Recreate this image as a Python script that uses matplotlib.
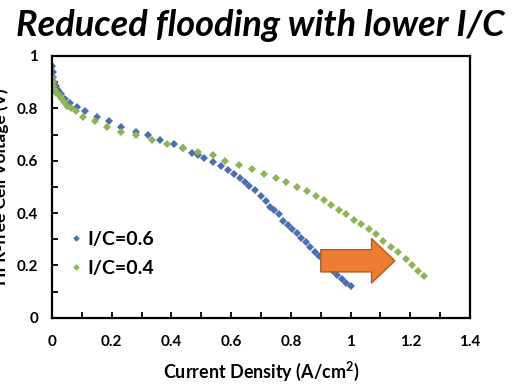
import matplotlib.pyplot as plt
from matplotlib.patches import FancyArrow
from matplotlib.ticker import MultipleLocator

# polarization data, current density (A/cm2) vs HFR-free voltage (V)
j_06 = [0, 0.002, 0.004, 0.008, 0.013, 0.02, 0.03, 0.045, 0.06, 0.085, 0.11, 0.15,
        0.19, 0.23, 0.28, 0.32, 0.36, 0.41, 0.44, 0.47, 0.49, 0.51, 0.54, 0.565,
        0.59, 0.61, 0.63, 0.645, 0.66, 0.68, 0.70, 0.715, 0.73, 0.745, 0.76, 0.775,
        0.79, 0.805, 0.82, 0.835, 0.85, 0.865, 0.88, 0.895, 0.91, 0.925, 0.94,
        0.955, 0.97, 0.985, 1.0]
v_06 = [0.96, 0.94, 0.92, 0.90, 0.885, 0.87, 0.855, 0.835, 0.82, 0.805, 0.79, 0.765,
        0.75, 0.73, 0.71, 0.70, 0.68, 0.665, 0.65, 0.63, 0.62, 0.61, 0.595, 0.58,
        0.565, 0.55, 0.535, 0.52, 0.505, 0.49, 0.465, 0.445, 0.425, 0.41, 0.395,
        0.37, 0.355, 0.34, 0.325, 0.305, 0.29, 0.27, 0.25, 0.235, 0.215, 0.195,
        0.18, 0.165, 0.15, 0.135, 0.12]

j_04 = [0, 0.002, 0.005, 0.01, 0.015, 0.022, 0.03, 0.04, 0.05, 0.065, 0.08, 0.105,
        0.145, 0.185, 0.23, 0.28, 0.335, 0.385, 0.44, 0.49, 0.54, 0.58, 0.625,
        0.67, 0.71, 0.75, 0.785, 0.82, 0.855, 0.885, 0.91, 0.935, 0.96, 0.985,
        1.01, 1.035, 1.06, 1.085, 1.11, 1.135, 1.16, 1.185, 1.205, 1.225, 1.245]
v_04 = [0.92, 0.90, 0.885, 0.87, 0.86, 0.85, 0.84, 0.825, 0.81, 0.80, 0.79, 0.765,
        0.75, 0.73, 0.71, 0.70, 0.68, 0.665, 0.65, 0.635, 0.62, 0.60, 0.585,
        0.57, 0.55, 0.535, 0.52, 0.50, 0.485, 0.465, 0.45, 0.43, 0.41, 0.395,
        0.375, 0.36, 0.34, 0.32, 0.295, 0.27, 0.25, 0.225, 0.20, 0.18, 0.16]

plt.rcParams['font.family'] = ['Lato', 'DejaVu Sans']
plt.rcParams['font.weight'] = 'bold'
plt.rcParams['axes.labelweight'] = 'bold'
plt.rcParams['mathtext.fontset'] = 'custom'
plt.rcParams['mathtext.bf'] = 'Lato:bold'
plt.rcParams['mathtext.rm'] = 'Lato:bold'

fig = plt.figure(figsize=(5.2, 3.91), dpi=100)
ax = fig.add_axes([0.1, 0.187, 0.804, 0.67])

ax.plot(j_06, v_06, 'D', color='#4a6fb5', ms=4.2, mew=0, label='I/C=0.6')
ax.plot(j_04, v_04, 'D', color='#8db553', ms=4.2, mew=0, label='I/C=0.4')

# orange block arrow pointing to the right
ax.add_patch(FancyArrow(0.9, 0.218, 0.17, 0, width=0.085, head_width=0.17,
                        head_length=0.078, length_includes_head=False,
                        fc='#ed7d31', ec='#b05a20', lw=1.0, zorder=5))

ax.set_xlim(0, 1.4)
ax.set_ylim(0, 1)
ax.xaxis.set_major_locator(MultipleLocator(0.2))
ax.xaxis.set_minor_locator(MultipleLocator(0.1))
ax.yaxis.set_major_locator(MultipleLocator(0.2))
ax.yaxis.set_minor_locator(MultipleLocator(0.1))
ax.xaxis.set_major_formatter(plt.FuncFormatter(lambda v, p: f'{v:g}'))
ax.yaxis.set_major_formatter(plt.FuncFormatter(lambda v, p: f'{v:g}'))
ax.tick_params(which='both', direction='in', length=4, width=1.3, labelsize=11,
               colors='black')
ax.tick_params(axis='x', pad=12)
ax.tick_params(axis='y', pad=10)
for s in ax.spines.values():
    s.set_linewidth(1.6)

ax.set_xlabel('Current Density (A/cm$^{2}$)', fontsize=13, labelpad=8)
ax.set_ylabel('HFR-free Cell Voltage (V)', fontsize=12.5)
ax.yaxis.set_label_coords(-0.103, 0.5)

ax.legend(loc='lower left', bbox_to_anchor=(-0.01, 0.09), frameon=False,
          fontsize=14, handletextpad=0.05, labelspacing=0.6, markerscale=0.8,
          handlelength=1.1)

fig.text(0.5, 0.935, 'Reduced flooding with lower I/C', ha='center', va='center',
         fontsize=26, fontweight='bold', style='italic')

fig.savefig('out.png', dpi=100)
